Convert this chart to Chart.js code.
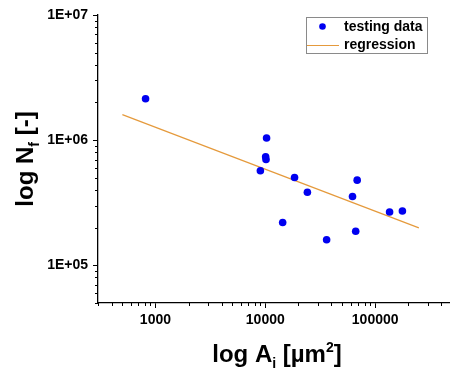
<!DOCTYPE html>
<html>
<head>
<meta charset="utf-8">
<script src="https://cdn.jsdelivr.net/npm/chart.js@4"></script>
<style>
	html, body { margin: 0; padding: 0; background: #fff; }
	#wrap { width: 453px; height: 371px; position: relative; }
</style>
</head>
<body>
<div id="wrap"><canvas id="chart"></canvas></div>
<script>
// testing data
var areaValues = [813, 10270, 10070, 10150, 9020, 18460, 24160, 14390, 36150, 62200, 68600, 66500, 135300, 177000];
var lifeValues = [2140000, 1040000, 737000, 700000, 569000, 503000, 384000, 220000, 160000, 355000, 479000, 187000, 267000, 272000];

// regression line end points
var regressionArea = [500, 250000];
var regressionLife = [1600000, 199000];

var seriesLabels = ['testing data', 'regression'];
var xTickLabels = [1000, 10000, 100000];
var yTickLabels = ['1E+05', '1E+06', '1E+07'];

var pointColor = '#0000f0';
var lineColor = '#e59a3c';
var fontFamily = "'Liberation Sans', Arial, sans-serif";

function toPoints(xs, ys) {
	var pts = [];
	for (var i = 0; i < xs.length; i++) {
		pts.push({x: xs[i], y: ys[i]});
	}
	return pts;
}

function decadeTicks(min, max) {
	// 1..9 x 10^n between min and max
	var ticks = [];
	var e = Math.floor(Math.log10(min));
	while (Math.pow(10, e) <= max) {
		for (var s = 1; s <= 9; s++) {
			var v = s * Math.pow(10, e);
			if (v >= min - 1e-9 && v <= max + 1e-9) {
				ticks.push({value: v, major: s === 1});
			}
		}
		e++;
	}
	return ticks;
}

function isPow10(v) {
	var l = Math.log10(v);
	return Math.abs(l - Math.round(l)) < 1e-9;
}

// short minor ticks, drawn with the scale's own pixel mapping
var minorTicks = {
	id: 'minorTicks',
	afterDraw: function(chart) {
		var ctx = chart.ctx;
		var xs = chart.scales.x, ys = chart.scales.y;
		ctx.save();
		ctx.strokeStyle = '#000';
		ctx.lineWidth = 1;
		ctx.beginPath();
		xs.ticks.forEach(function(t) {
			if (t.major) return;
			var px = Math.round(xs.getPixelForValue(t.value)) + 0.5;
			ctx.moveTo(px, xs.top);
			ctx.lineTo(px, xs.top + 3);
		});
		ys.ticks.forEach(function(t) {
			if (t.major) return;
			var py = Math.round(ys.getPixelForValue(t.value)) + 0.5;
			ctx.moveTo(ys.right, py);
			ctx.lineTo(ys.right - 3, py);
		});
		ctx.stroke();
		ctx.restore();
	}
};

// axis titles with sub/superscripts
function drawRich(ctx, parts, x, y, align) {
	var total = 0;
	parts.forEach(function(p) {
		ctx.font = 'bold ' + p.size + 'px ' + fontFamily;
		p.w = ctx.measureText(p.t).width;
		total += p.w;
	});
	var cx = align === 'center' ? x - total / 2 : x;
	parts.forEach(function(p) {
		ctx.font = 'bold ' + p.size + 'px ' + fontFamily;
		ctx.fillText(p.t, cx, y + (p.dy || 0));
		cx += p.w;
	});
}

var axisTitles = {
	id: 'axisTitles',
	afterDraw: function(chart) {
		var ctx = chart.ctx;
		var area = chart.chartArea;
		ctx.save();
		ctx.fillStyle = '#000';
		ctx.textBaseline = 'alphabetic';
		ctx.textAlign = 'left';
		drawRich(ctx, [
			{t: 'log A', size: 24},
			{t: 'i', size: 14, dy: 6},
			{t: ' [\u00b5m', size: 24},
			{t: '2', size: 14, dy: -10},
			{t: ']', size: 24}
		], 277, 362, 'center');
		ctx.translate(33, (area.top + area.bottom) / 2);
		ctx.rotate(-Math.PI / 2);
		drawRich(ctx, [
			{t: 'log N', size: 24},
			{t: 'f', size: 14, dy: 6},
			{t: ' [-]', size: 24}
		], 0, 0, 'center');
		ctx.restore();
	}
};

// boxed legend in the upper right of the plot
var boxLegend = {
	id: 'boxLegend',
	afterDraw: function(chart) {
		var ctx = chart.ctx;
		var ds = chart.data.datasets;
		ctx.save();
		ctx.strokeStyle = '#8a8a8a';
		ctx.lineWidth = 1;
		ctx.strokeRect(306.5, 17.5, 121, 36);
		ctx.font = 'bold 14px ' + fontFamily;
		ctx.fillStyle = '#000';
		ctx.textBaseline = 'middle';
		ctx.fillText(ds[0].label, 344, 27);
		ctx.fillText(ds[1].label, 344, 45);
		ctx.fillStyle = pointColor;
		ctx.beginPath();
		ctx.arc(322.5, 26.5, 3.3, 0, Math.PI * 2);
		ctx.fill();
		ctx.strokeStyle = lineColor;
		ctx.beginPath();
		ctx.moveTo(307, 45.5);
		ctx.lineTo(339, 45.5);
		ctx.stroke();
		ctx.restore();
	}
};

var chart = new Chart(document.getElementById('chart'), {
	type: 'scatter',
	data: {
		datasets: [{
			label: seriesLabels[0],
			data: toPoints(areaValues, lifeValues),
			backgroundColor: pointColor,
			borderColor: pointColor,
			pointRadius: 3.8,
			borderWidth: 0,
			order: 1
		}, {
			label: seriesLabels[1],
			type: 'line',
			data: toPoints(regressionArea, regressionLife),
			borderColor: lineColor,
			borderWidth: 1.2,
			pointRadius: 0,
			fill: false,
			order: 2
		}]
	},
	options: {
		responsive: true,
		maintainAspectRatio: false,
		animation: false,
		layout: {padding: {top: 15, right: 0, bottom: 0, left: 0}},
		plugins: {
			legend: {display: false},
			tooltip: {enabled: false}
		},
		scales: {
			x: {
				type: 'logarithmic',
				min: 300,
				max: 470000,
				afterBuildTicks: function(axis) { axis.ticks = decadeTicks(300, 470000); },
				afterFit: function(axis) { axis.height = 68; },
				border: {display: true, color: '#000', width: 1.3},
				grid: {
					display: true,
					drawOnChartArea: false,
					tickLength: 5,
					tickColor: function(c) { return c.tick && c.tick.major ? '#000' : 'rgba(0,0,0,0)'; }
				},
				ticks: {
					autoSkip: false,
					maxRotation: 0,
					padding: 4,
					color: '#000',
					font: {family: fontFamily, size: 14, weight: 'bold'},
					callback: function(v) {
						return xTickLabels.indexOf(v) >= 0 ? String(v) : '';
					}
				}
			},
			y: {
				type: 'logarithmic',
				min: 50000,
				max: 10000000,
				afterBuildTicks: function(axis) { axis.ticks = decadeTicks(50000, 10000000); },
				afterFit: function(axis) { axis.width = 98; },
				border: {display: true, color: '#000', width: 1.3},
				grid: {
					display: true,
					drawOnChartArea: false,
					tickLength: 5,
					tickColor: function(c) { return c.tick && c.tick.major ? '#000' : 'rgba(0,0,0,0)'; }
				},
				ticks: {
					autoSkip: false,
					padding: 5,
					color: '#000',
					font: {family: fontFamily, size: 14, weight: 'bold'},
					callback: function(v) {
						if (!isPow10(v)) return '';
						var e = Math.round(Math.log10(v));
						var lbl = '1E+' + (e < 10 ? '0' : '') + e;
						return yTickLabels.indexOf(lbl) >= 0 ? lbl : '';
					}
				}
			}
		}
	},
	plugins: [minorTicks, axisTitles, boxLegend]
});
</script>
</body>
</html>
